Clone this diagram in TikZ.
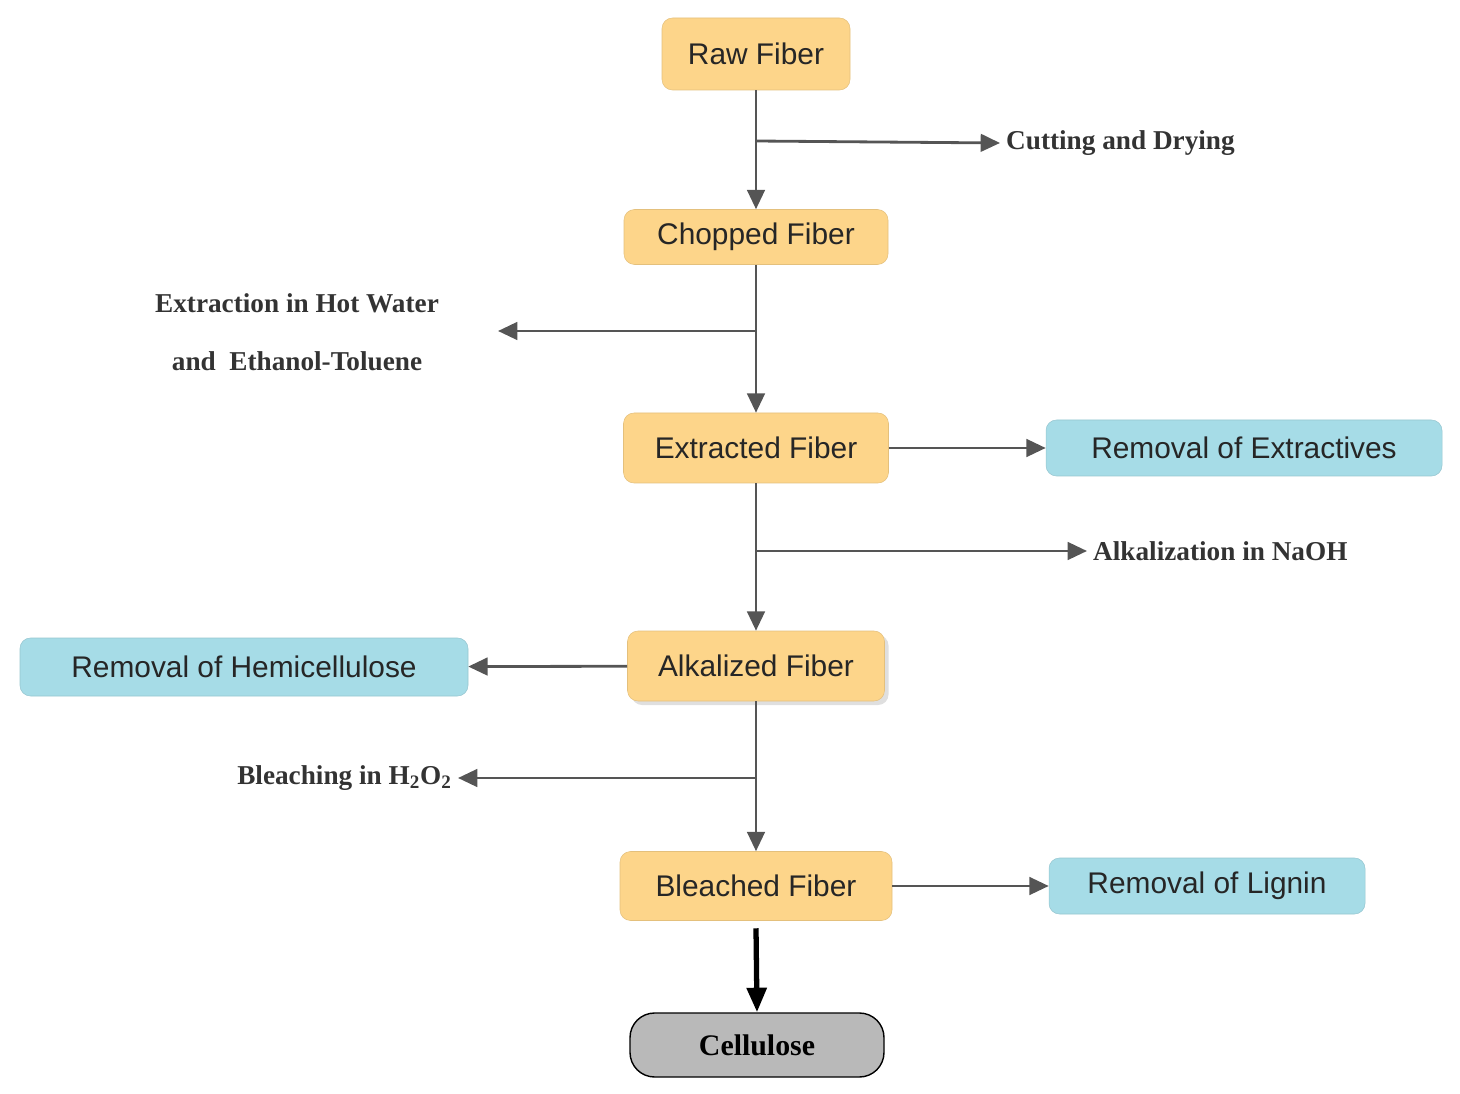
\documentclass[tikz,border=0pt]{standalone}
\usepackage{fontspec}
\setmainfont{Liberation Serif}
\newfontfamily\boxfont{Liberation Sans}
\usetikzlibrary{arrows.meta,shadows}
\definecolor{org}{HTML}{FDD58A}
\definecolor{blu}{HTML}{A6DCE7}
\definecolor{arr}{HTML}{555555}
\begin{document}
\begin{tikzpicture}[x=0.02cm,y=-0.02cm,
 fib/.style={fill=org,draw=org!90!black,line width=0.3pt,rounded corners=6pt,font=\boxfont\fontsize{17}{20}\selectfont,text=black!85,inner sep=0pt,anchor=center},
 rem/.style={fill=blu,draw=blu!90!black,line width=0.3pt,rounded corners=6pt,font=\boxfont\fontsize{17}{20}\selectfont,text=black!85,inner sep=0pt,anchor=center},
 lab/.style={font=\bfseries\fontsize{15.5}{20}\selectfont,text=black!80},
 ar/.style={draw=arr,line width=1.6pt,-{Triangle[length=11pt,width=10pt]}}]
\useasboundingbox (0,0) rectangle (1460,1094);
\node[fib,minimum width=188*0.02cm,minimum height=72*0.02cm] (raw) at (756,54) {Raw Fiber};
\node[fib,minimum width=264*0.02cm,minimum height=55*0.02cm] (chop) at (756,237) {Chopped Fiber};
\node[fib,minimum width=265*0.02cm,minimum height=70*0.02cm] (ext) at (756,448) {Extracted Fiber};
\node[rem,minimum width=396*0.02cm,minimum height=56*0.02cm] (rext) at (1244,448) {Removal of Extractives};
\node[fib,minimum width=257*0.02cm,minimum height=70*0.02cm,drop shadow={opacity=0.25}] (alk) at (756,666) {Alkalized Fiber};
\node[rem,minimum width=448*0.02cm,minimum height=58*0.02cm] (rhem) at (244,667) {Removal of Hemicellulose};
\node[fib,minimum width=272*0.02cm,minimum height=69*0.02cm] (bl) at (756,886) {Bleached Fiber};
\node[rem,minimum width=316*0.02cm,minimum height=56*0.02cm] (rlig) at (1207,886) {Removal of Lignin};
\node[fill=gray!55,draw=black,line width=0.8pt,rounded corners=14pt,minimum width=254*0.02cm,minimum height=64*0.02cm,font=\bfseries\fontsize{17}{20}\selectfont,inner sep=0pt] (cel) at (757,1045) {Cellulose};
\node[lab,anchor=west] (cut) at (1000,143) {Cutting and Drying};
\node[lab] (ex1) at (297,303) {Extraction in Hot Water};
\node[lab] (ex2) at (297,361) {and\ \ Ethanol-Toluene};
\node[lab,anchor=west] (alkl) at (1087,551) {Alkalization in NaOH};
\node[lab,anchor=east] (blh) at (458,778) {Bleaching in H\textsubscript{2}O\textsubscript{2}};
\coordinate (j1) at (756,141);
\coordinate (j2) at (756,331);
\coordinate (j3) at (756,551);
\coordinate (j4) at (756,778);
\coordinate (e2) at (498,331);
\draw[ar] (raw) -- (chop);
\draw[ar] (j1) -- (cut.west);
\draw[ar] (chop) -- (ext);
\draw[ar] (j2) -- (e2);
\draw[ar] (ext) -- (rext);
\draw[ar] (ext) -- (alk);
\draw[ar] (j3) -- (alkl.west);
\draw[ar] (alk) -- (rhem);
\draw[ar] (alk) -- (bl);
\draw[ar] (j4) -- (blh.east);
\draw[ar] (bl) -- (rlig);
\draw[line width=3pt,-{Triangle[length=14pt,width=11pt]}] ([yshift=-0.15cm]bl.south) -- (cel.north);
\end{tikzpicture}
\end{document}
